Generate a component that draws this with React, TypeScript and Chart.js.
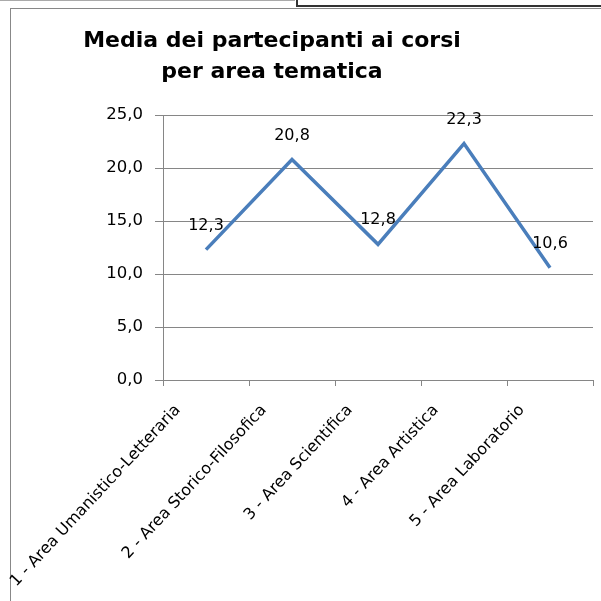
import React, { useEffect, useRef } from "react";
import { Chart, registerables } from "chart.js";

Chart.register(...registerables);

const categories = [
  "1 - Area Umanistico-Letteraria",
  "2 - Area Storico-Filosofica",
  "3 - Area Scientifica",
  "4 - Area Artistica",
  "5 - Area Laboratorio",
];
const values = [12.3, 20.8, 12.8, 22.3, 10.6];
const titleLines = ["Media dei partecipanti ai corsi", "per area tematica"];

const FONT = "'DejaVu Sans', Verdana, sans-serif";
const fmt = (v: number) => v.toFixed(1).replace(".", ",");

const labelPlugin = {
  id: "pointLabels",
  afterDatasetsDraw(chart: any) {
    const ctx = chart.ctx;
    const meta = chart.getDatasetMeta(0);
    ctx.save();
    ctx.font = `16px ${FONT}`;
    ctx.fillStyle = "#000";
    ctx.textAlign = "center";
    ctx.textBaseline = "middle";
    meta.data.forEach((el: any, i: number) => {
      ctx.fillText(fmt(values[i]), el.x, el.y - 24);
    });
    ctx.restore();
  },
};

export default function App() {
  const ref = useRef<HTMLCanvasElement>(null);
  useEffect(() => {
    if (!ref.current) return;
    const chart = new Chart(ref.current, {
      type: "line",
      data: {
        labels: categories,
        datasets: [
          {
            data: values,
            borderColor: "#4a7ebb",
            borderWidth: 3.5,
            pointRadius: 0,
            fill: false,
            tension: 0,
          },
        ],
      },
      options: {
        animation: false,
        responsive: false,
        devicePixelRatio: 1,
        layout: { padding: { top: 106, right: 8, left: 0, bottom: 0 } },
        plugins: { legend: { display: false }, title: { display: false }, tooltip: { enabled: false } },
        scales: {
          x: {
            offset: true,
            grid: { display: true, drawOnChartArea: false, drawTicks: true, tickLength: 6, color: "#868686", offset: true },
            border: { color: "#868686" },
            ticks: {
              color: "#000",
              font: { family: FONT, size: 16 },
              maxRotation: 47,
              minRotation: 47,
              padding: 15,
              labelOffset: -28,
            },
            afterFit: (s: any) => { s.height = 221; },
          },
          y: {
            min: 0,
            max: 25,
            grid: { color: "#868686", tickLength: 8, drawTicks: true },
            border: { color: "#868686" },
            ticks: {
              stepSize: 5,
              color: "#000",
              font: { family: FONT, size: 16.5 },
              padding: 12,
              callback: (v: any) => fmt(Number(v)),
            },
            afterFit: (s: any) => { s.width = 154; },
          },
        },
      },
      plugins: [labelPlugin],
    });
    return () => chart.destroy();
  }, []);

  return (
    <div style={{ position: "fixed", left: 0, top: 0, width: 601, height: 601, background: "#fff", overflow: "hidden" }}>
      <div style={{ position: "absolute", left: 0, top: 0, width: 295, height: 0, borderTop: "1px solid #aaa" }} />
      <div style={{ position: "absolute", left: 296, top: -10, width: 320, height: 13, border: "2px solid #333" }} />
      <div style={{ position: "absolute", left: 10, top: 8, width: 600, height: 600, border: "1px solid #888", boxSizing: "border-box" }} />
      <canvas ref={ref} width={592} height={592} style={{ position: "absolute", left: 9, top: 9, width: 592, height: 592 }} />
      <div
        style={{
          position: "absolute",
          left: 72,
          width: 400,
          top: 24,
          textAlign: "center",
          fontFamily: FONT,
          fontWeight: "bold",
          fontSize: 22,
          lineHeight: "31px",
          color: "#000",
        }}
      >
        {titleLines.map((l, i) => (
          <div key={i}>{l}</div>
        ))}
      </div>
    </div>
  );
}
